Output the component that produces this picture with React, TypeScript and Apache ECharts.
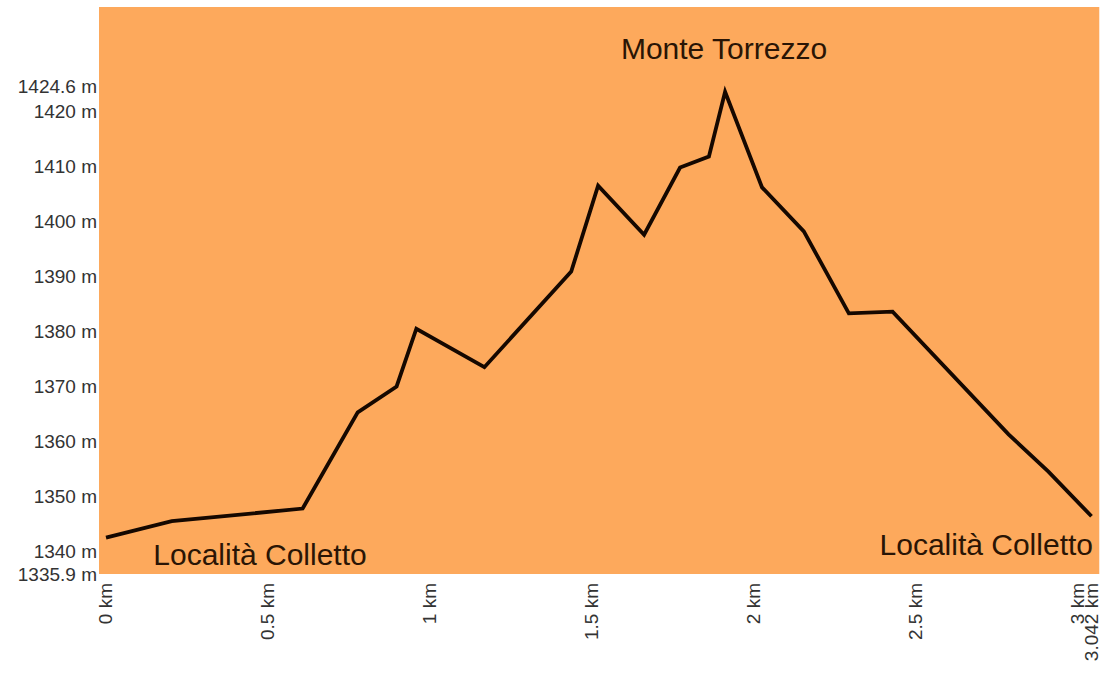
import React, { useEffect, useRef } from "react";
import * as echarts from "echarts";

const distKm = [0, 0.203, 0.607, 0.777, 0.897, 0.958, 1.168, 1.436, 1.519, 1.661, 1.772, 1.861, 1.911, 2.025, 2.154, 2.293, 2.428, 2.786, 2.909, 3.042];
const elevM = [1342.5, 1345.5, 1347.8, 1365.3, 1370.0, 1380.5, 1373.5, 1390.9, 1406.5, 1397.6, 1409.8, 1411.8, 1423.6, 1406.2, 1398.2, 1383.3, 1383.6, 1361.3, 1354.5, 1346.4];

const yTickValues = [1335.9, 1340, 1350, 1360, 1370, 1380, 1390, 1400, 1410, 1420, 1424.6];
const xTickValues = [0, 0.5, 1, 1.5, 2, 2.5, 3];
const xEndTickValues = [3.042];

const startName = "Località Colletto";
const peakName = "Monte Torrezzo";
const endName = "Località Colletto";

export default function App() {
  const ref = useRef<HTMLDivElement>(null);
  useEffect(() => {
    if (!ref.current) return;
    const chart = echarts.init(ref.current, null, { renderer: "svg" });
    const font = "'Liberation Sans', Arial, sans-serif";
    const xLabelBase = {
      rotate: 90,
      margin: 9,
      color: "#333333",
      fontSize: 19,
      fontFamily: font,
      formatter: (v: number) => `${v} km`,
    };
    chart.setOption({
      animation: false,
      backgroundColor: "#ffffff",
      grid: {
        left: 99,
        top: 7,
        width: 1002,
        height: 567,
        show: true,
        backgroundColor: "#FDA95C",
        borderWidth: 0,
      },
      xAxis: [
        {
          type: "value",
          min: -0.0216,
          max: 3.066,
          position: "bottom",
          splitLine: { show: false },
          axisLine: { show: false },
          axisTick: { show: false },
          axisLabel: { ...xLabelBase, customValues: xTickValues },
        },
        {
          type: "value",
          min: -0.0216,
          max: 3.066,
          position: "bottom",
          splitLine: { show: false },
          axisLine: { show: false },
          axisTick: { show: false },
          axisLabel: { ...xLabelBase, customValues: xEndTickValues },
        },
      ],
      yAxis: {
        type: "value",
        min: 1335.9,
        max: 1439.0,
        splitLine: { show: false },
        axisLine: { show: false },
        axisTick: { show: false },
        axisLabel: {
          customValues: yTickValues,
          margin: 2,
          color: "#333333",
          fontSize: 19,
          fontFamily: font,
          formatter: (v: number) => `${v} m`,
        },
      },
      series: [
        {
          type: "line",
          xAxisIndex: 0,
          data: distKm.map((d, i) => [d, elevM[i]]),
          symbol: "none",
          lineStyle: { color: "#150800", width: 3.8, join: "miter" },
          z: 3,
        },
      ],
      graphic: [
        {
          type: "text",
          x: 260,
          y: 554,
          style: { text: startName, fontSize: 30, fontFamily: font, fill: "#2a1505", align: "center", verticalAlign: "middle" },
        },
        {
          type: "text",
          x: 724,
          y: 48,
          style: { text: peakName, fontSize: 30, fontFamily: font, fill: "#2a1505", align: "center", verticalAlign: "middle" },
        },
        {
          type: "text",
          x: 1093,
          y: 544,
          style: { text: endName, fontSize: 30, fontFamily: font, fill: "#2a1505", align: "right", verticalAlign: "middle" },
        },
      ],
    });
    return () => chart.dispose();
  }, []);
  return (
    <div
      ref={ref}
      style={{ position: "absolute", left: 0, top: 0, width: 1101, height: 677 }}
    />
  );
}
